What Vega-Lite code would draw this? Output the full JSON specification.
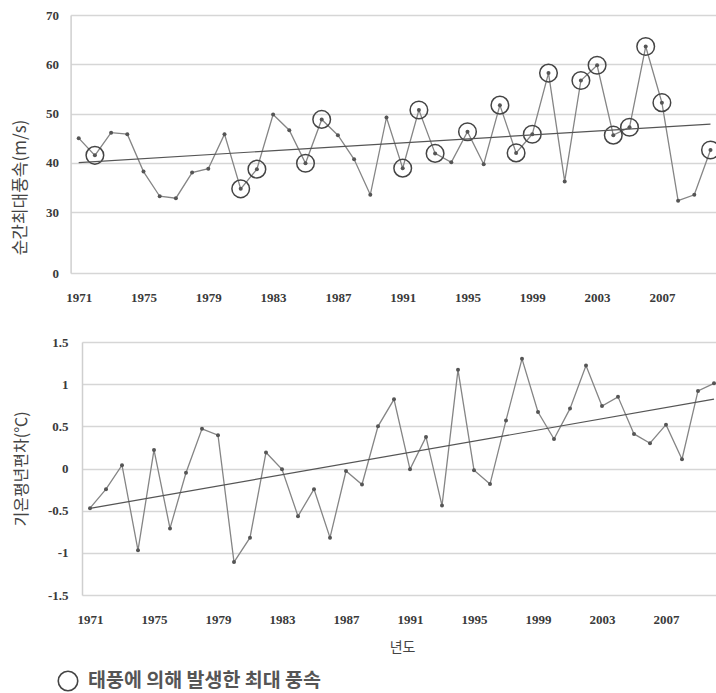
{
  "$schema": "https://vega.github.io/schema/vega-lite/v6.json",
  "background": "white",
  "padding": {"left": 11, "top": 9, "right": 0, "bottom": 0},
  "spacing": 32,
  "config": {
    "view": {"stroke": null},
    "axis": {
      "labelFont": "Liberation Serif",
      "labelFontWeight": "bold",
      "labelFontSize": 13,
      "labelColor": "#3a3a3a",
      "titleFont": "Noto Sans CJK KR",
      "titleFontWeight": "normal",
      "titleColor": "#444444",
      "ticks": false,
      "domainColor": "#cfcfcf",
      "domainWidth": 1.5,
      "gridColor": "#d6d6d6",
      "gridWidth": 1.5
    }
  },
  "datasets": {
    "wind": [
      {"year": 1971, "wind": 45.0, "typhoon": false},
      {"year": 1972, "wind": 41.5, "typhoon": true},
      {"year": 1973, "wind": 46.1, "typhoon": false},
      {"year": 1974, "wind": 45.8, "typhoon": false},
      {"year": 1975, "wind": 38.2, "typhoon": false},
      {"year": 1976, "wind": 33.2, "typhoon": false},
      {"year": 1977, "wind": 32.8, "typhoon": false},
      {"year": 1978, "wind": 38.0, "typhoon": false},
      {"year": 1979, "wind": 38.8, "typhoon": false},
      {"year": 1980, "wind": 45.8, "typhoon": false},
      {"year": 1981, "wind": 34.7, "typhoon": true},
      {"year": 1982, "wind": 38.7, "typhoon": true},
      {"year": 1983, "wind": 49.8, "typhoon": false},
      {"year": 1984, "wind": 46.6, "typhoon": false},
      {"year": 1985, "wind": 39.9, "typhoon": true},
      {"year": 1986, "wind": 48.8, "typhoon": true},
      {"year": 1987, "wind": 45.6, "typhoon": false},
      {"year": 1988, "wind": 40.7, "typhoon": false},
      {"year": 1989, "wind": 33.5, "typhoon": false},
      {"year": 1990, "wind": 49.2, "typhoon": false},
      {"year": 1991, "wind": 38.9, "typhoon": true},
      {"year": 1992, "wind": 50.7, "typhoon": true},
      {"year": 1993, "wind": 41.9, "typhoon": true},
      {"year": 1994, "wind": 40.1, "typhoon": false},
      {"year": 1995, "wind": 46.3, "typhoon": true},
      {"year": 1996, "wind": 39.7, "typhoon": false},
      {"year": 1997, "wind": 51.7, "typhoon": true},
      {"year": 1998, "wind": 42.0, "typhoon": true},
      {"year": 1999, "wind": 45.8, "typhoon": true},
      {"year": 2000, "wind": 58.2, "typhoon": true},
      {"year": 2001, "wind": 36.2, "typhoon": false},
      {"year": 2002, "wind": 56.7, "typhoon": true},
      {"year": 2003, "wind": 59.8, "typhoon": true},
      {"year": 2004, "wind": 45.6, "typhoon": true},
      {"year": 2005, "wind": 47.2, "typhoon": true},
      {"year": 2006, "wind": 63.6, "typhoon": true},
      {"year": 2007, "wind": 52.2, "typhoon": true},
      {"year": 2008, "wind": 32.3, "typhoon": false},
      {"year": 2009, "wind": 33.5, "typhoon": false},
      {"year": 2010, "wind": 42.6, "typhoon": true}
    ],
    "temp": [
      {"year": 1971, "anom": -0.47},
      {"year": 1972, "anom": -0.245},
      {"year": 1973, "anom": 0.04},
      {"year": 1974, "anom": -0.97},
      {"year": 1975, "anom": 0.22},
      {"year": 1976, "anom": -0.71},
      {"year": 1977, "anom": -0.05},
      {"year": 1978, "anom": 0.47},
      {"year": 1979, "anom": 0.395},
      {"year": 1980, "anom": -1.11},
      {"year": 1981, "anom": -0.82},
      {"year": 1982, "anom": 0.19},
      {"year": 1983, "anom": -0.01},
      {"year": 1984, "anom": -0.565},
      {"year": 1985, "anom": -0.245},
      {"year": 1986, "anom": -0.82},
      {"year": 1987, "anom": -0.03},
      {"year": 1988, "anom": -0.19},
      {"year": 1989, "anom": 0.5},
      {"year": 1990, "anom": 0.82},
      {"year": 1991, "anom": -0.01},
      {"year": 1992, "anom": 0.375},
      {"year": 1993, "anom": -0.44},
      {"year": 1994, "anom": 1.17},
      {"year": 1995, "anom": -0.02},
      {"year": 1996, "anom": -0.185},
      {"year": 1997, "anom": 0.57},
      {"year": 1998, "anom": 1.3},
      {"year": 1999, "anom": 0.67},
      {"year": 2000, "anom": 0.35},
      {"year": 2001, "anom": 0.71},
      {"year": 2002, "anom": 1.22},
      {"year": 2003, "anom": 0.74},
      {"year": 2004, "anom": 0.85},
      {"year": 2005, "anom": 0.41},
      {"year": 2006, "anom": 0.3},
      {"year": 2007, "anom": 0.52},
      {"year": 2008, "anom": 0.11},
      {"year": 2009, "anom": 0.92},
      {"year": 2010, "anom": 1.01}
    ]
  },
  "vconcat": [
    {
      "width": 637,
      "height": 258,
      "data": {"name": "wind"},
      "encoding": {
        "x": {
          "field": "year",
          "type": "quantitative",
          "scale": {"domain": [1970.5, 2010.5], "range": [-11.4, 636.6], "nice": false, "zero": false},
          "axis": {
            "values": [1971, 1975, 1979, 1983, 1987, 1991, 1995, 1999, 2003, 2007],
            "format": "d",
            "grid": false,
            "domain": false,
            "title": null,
            "labelPadding": 18
          }
        },
        "y": {
          "field": "wind",
          "type": "quantitative",
          "scale": {"domain": [0, 30, 70], "range": [258, 197, 0], "nice": false, "zero": false},
          "axis": {
            "values": [0, 30, 40, 50, 60, 70],
            "title": "순간최대풍속(m/s)",
            "titleFontSize": 17,
            "titleY": 172,
            "offset": 11.4,
            "minExtent": 38,
            "maxExtent": 38,
            "titlePadding": 3,
            "labelPadding": 12,
            "grid": true
          }
        }
      },
      "layer": [
        {"mark": {"type": "line", "color": "#858585", "strokeWidth": 1.3}},
        {"mark": {"type": "point", "filled": true, "color": "#555555", "size": 16, "opacity": 1}},
        {
          "transform": [{"filter": "datum.typhoon"}],
          "mark": {"type": "point", "filled": false, "stroke": "#444444", "strokeWidth": 1.5, "size": 310, "opacity": 1},
          "encoding": {
            "shape": {
              "datum": "태풍에 의해 발생한 최대 풍속",
              "type": "nominal",
              "scale": {"range": ["circle"]},
              "legend": {
                "title": null,
                "orient": "none",
                "legendX": -25,
                "legendY": 655,
                "symbolSize": 380,
                "symbolStrokeColor": "#444444",
                "symbolFillColor": "white",
                "symbolStrokeWidth": 1.6,
                "labelFont": "Noto Sans CJK KR",
                "labelFontSize": 19.5,
                "labelFontWeight": "bold",
                "labelColor": "#555555",
                "labelLimit": 500,
                "labelOffset": 9
              }
            }
          }
        },
        {
          "transform": [{"regression": "wind", "on": "year", "extent": [1971, 2010]}],
          "mark": {"type": "line", "color": "#555555", "strokeWidth": 1.2}
        }
      ]
    },
    {
      "width": 640,
      "height": 253,
      "data": {"name": "temp"},
      "encoding": {
        "x": {
          "field": "year",
          "type": "quantitative",
          "scale": {"domain": [1970.5, 2010.5], "nice": false, "zero": false},
          "axis": {
            "values": [1971, 1975, 1979, 1983, 1987, 1991, 1995, 1999, 2003, 2007],
            "format": "d",
            "grid": false,
            "domain": false,
            "title": "년도",
            "titleFontSize": 14,
            "titlePadding": 14,
            "labelPadding": 18
          }
        },
        "y": {
          "field": "anom",
          "type": "quantitative",
          "scale": {"domain": [-1.5, 1.5], "nice": false, "zero": false},
          "axis": {
            "values": [-1.5, -1, -0.5, 0, 0.5, 1, 1.5],
            "labelExpr": "replace(format(datum.value, '.1~f'), '−', '-')",
            "title": "기온평년편차(℃)",
            "titleFontSize": 16,
            "minExtent": 50,
            "maxExtent": 50,
            "titlePadding": 3,
            "labelPadding": 14,
            "grid": true
          }
        }
      },
      "layer": [
        {"mark": {"type": "line", "color": "#858585", "strokeWidth": 1.3}},
        {"mark": {"type": "point", "filled": true, "color": "#555555", "size": 16, "opacity": 1}},
        {
          "transform": [{"regression": "anom", "on": "year", "extent": [1971, 2010]}],
          "mark": {"type": "line", "color": "#555555", "strokeWidth": 1.2}
        }
      ]
    }
  ]
}
